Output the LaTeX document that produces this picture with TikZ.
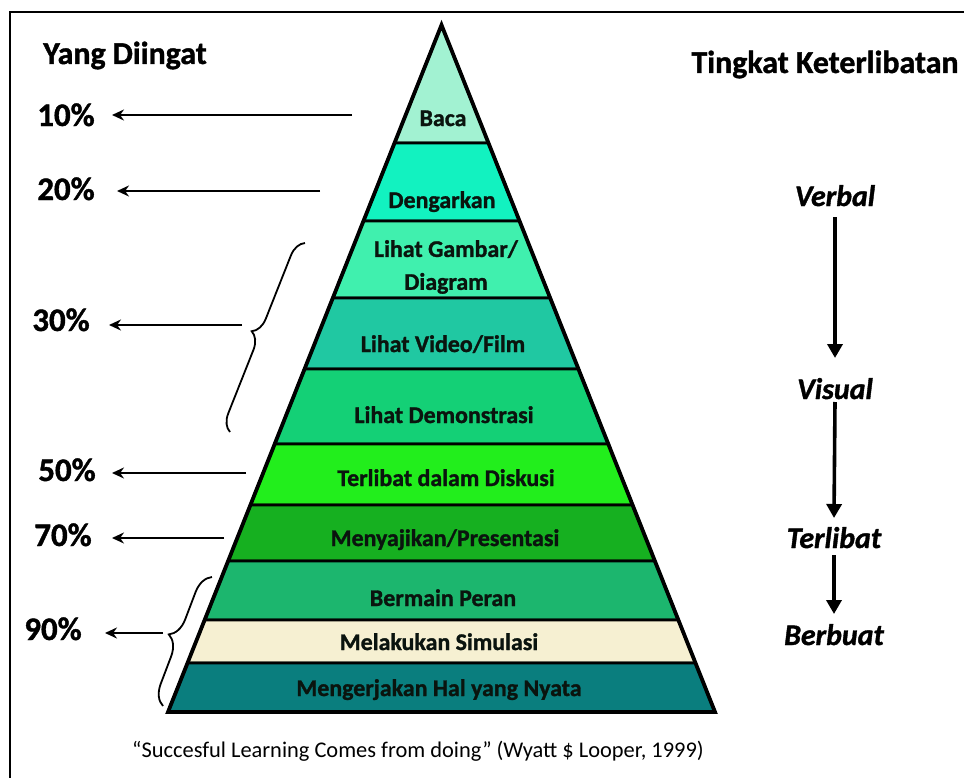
\documentclass[tikz,border=0pt]{standalone}
\usepackage{fontspec}
\setmainfont{Carlito}[BoldFeatures={FakeBold=1.2},BoldItalicFeatures={FakeBold=1.2}]
\usetikzlibrary{arrows.meta,decorations.pathreplacing,calc}
\definecolor{cBaca}{HTML}{A2F2D2}
\definecolor{cDeng}{HTML}{12F2C0}
\definecolor{cGamb}{HTML}{40F0AE}
\definecolor{cVid}{HTML}{20C8A2}
\definecolor{cDemo}{HTML}{14D076}
\definecolor{cDisk}{HTML}{22EE1C}
\definecolor{cSaji}{HTML}{16B020}
\definecolor{cPeran}{HTML}{1CB66E}
\definecolor{cSimu}{HTML}{F6F0D2}
\definecolor{cNyata}{HTML}{0A7E7E}
\definecolor{txt}{HTML}{0A140E}
\begin{document}
\begin{tikzpicture}[x=1bp,y=-1bp,
  bandline/.style={draw=black,line width=2.8bp},
  bandtxt/.style={font=\bfseries\fontsize{24}{33}\selectfont, align=center, inner sep=0pt, text=txt, anchor=base},
  pct/.style={font=\bfseries\fontsize{33}{35}\selectfont, inner sep=0pt, anchor=base},
  head/.style={font=\bfseries\fontsize{32}{34}\selectfont, inner sep=0pt, anchor=base},
  lvl/.style={font=\bfseries\itshape\fontsize{30}{32}\selectfont, inner sep=0pt, anchor=base},
  arr/.style={line width=2.8bp,-{Stealth[length=12bp,width=11bp]}},
  varr/.style={line width=3.6bp,-{Triangle[length=14bp,width=15bp]}},
  brc/.style={line width=1.8bp, decorate, decoration={brace,amplitude=#1}},
  frameline/.style={line width=2bp}]
\useasboundingbox (0,0) rectangle (964,778);
\draw[frameline] (10,778) -- (10,12) -- (964,12);

% pyramid bands
\foreach \ya/\yb/\col in {25/143/cBaca,143/221/cDeng,221/298/cGamb,298/369/cVid,369/444/cDemo,444/505/cDisk,505/561/cSaji,561/620/cPeran,620/663/cSimu,663/712/cNyata}{
  \pgfmathsetmacro{\xa}{0.398108*(\ya-25)}
  \pgfmathsetmacro{\xb}{0.398108*(\yb-25)}
  \filldraw[bandline,fill=\col] (441.5-\xa,\ya) -- (441.5+\xa,\ya) -- (441.5+\xb,\yb) -- (441.5-\xb,\yb) -- cycle;
}
\draw[line width=3.8bp] (441.5,25) -- (715,712) -- (168,712) -- cycle;

% band texts
\node[bandtxt] (baca) at (443,126) {Baca};
\node[bandtxt] (dengar) at (442,208) {Dengarkan};
\node[bandtxt,anchor=center] (gambar) at (446,267) {Lihat Gambar/\\Diagram};
\node[bandtxt] (video) at (443,352) {Lihat Video/Film};
\node[bandtxt] (demo) at (444,423) {Lihat Demonstrasi};
\node[bandtxt] (diskusi) at (446,486) {Terlibat dalam Diskusi};
\node[bandtxt] (saji) at (445,546) {Menyajikan/Presentasi};
\node[bandtxt] (peran) at (443,606) {Bermain Peran};
\node[bandtxt] (simu) at (439,650) {Melakukan Simulasi};
\node[bandtxt] (nyata) at (439,696) {Mengerjakan Hal yang Nyata};

% left side
\node[head] (yang) at (125,64) {Yang Diingat};
\node[pct] (p10) at (66,126) {10\%};
\node[pct] (p20) at (66,200) {20\%};
\node[pct] (p30) at (61,331) {30\%};
\node[pct] (p50) at (67,481) {50\%};
\node[pct] (p70) at (63,546) {70\%};
\node[pct] (p90) at (53,640) {90\%};

\coordinate (s10) at (352,115);
\coordinate (s20) at (320,191);
\coordinate (s30) at (242,325);
\coordinate (s50) at (246,473);
\coordinate (s70) at (224,538);
\coordinate (s90) at (163,633);
\draw[arr] (s10) -- (112,115);
\draw[arr] (s20) -- (117,191);
\draw[arr] (s30) -- (109,325);
\draw[arr] (s50) -- (112,473);
\draw[arr] (s70) -- (112,538);
\draw[arr] (s90) -- (105,633);

\coordinate (b30a) at (230,432);
\coordinate (b30b) at (305,243);
\coordinate (b90a) at (163,706);
\coordinate (b90b) at (212,577);
\draw[brc=17bp] (b30a) -- (b30b);
\draw[brc=20bp] (b90a) -- (b90b);

% right side
\node[head] (tingkat) at (825,73) {Tingkat Keterlibatan};
\node[lvl] (verbal) at (835,206) {Verbal};
\node[lvl] (visual) at (835,399) {Visual};
\node[lvl] (terlibat) at (834,548) {Terlibat};
\node[lvl] (berbuat) at (834,645) {Berbuat};
\draw[varr] ($(verbal.base)+(0,11)$) -- ($(visual.base)+(0,-41)$);
\draw[varr] ($(visual.base)+(0,3)$) -- ($(terlibat.base)+(0,-30)$);
\draw[varr] ($(terlibat.base)+(0,7)$) -- ($(berbuat.base)+(0,-31)$);

% quote
\node[font=\fontsize{22.5}{24}\selectfont, inner sep=0pt, anchor=base] (quote) at (418,757) {“Succesful Learning Comes from doing” (Wyatt \$ Looper, 1999)};
\end{tikzpicture}
\end{document}
